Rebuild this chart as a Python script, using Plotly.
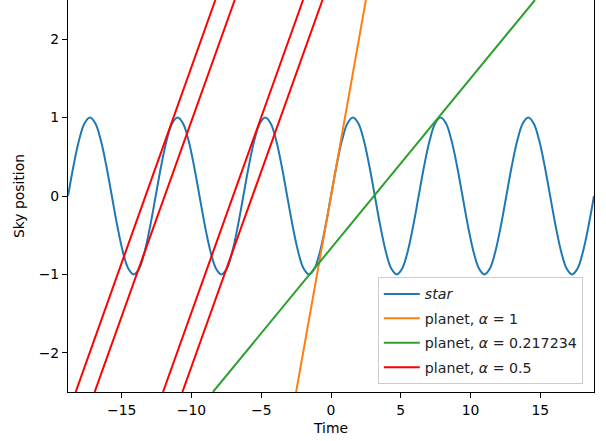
import plotly.graph_objects as go

# Star sky position sampled every pi/8 in time
star_time = [
    -18.850, -18.457, -18.064, -17.671, -17.279, -16.886, -16.493, -16.101,
    -15.708, -15.315, -14.923, -14.530, -14.137, -13.744, -13.352, -12.959,
    -12.566, -12.174, -11.781, -11.388, -10.996, -10.603, -10.210, -9.817,
    -9.425, -9.032, -8.639, -8.247, -7.854, -7.461, -7.069, -6.676,
    -6.283, -5.890, -5.498, -5.105, -4.712, -4.320, -3.927, -3.534,
    -3.142, -2.749, -2.356, -1.963, -1.571, -1.178, -0.785, -0.393,
    0.000,
    0.393, 0.785, 1.178, 1.571, 1.963, 2.356, 2.749, 3.142,
    3.534, 3.927, 4.320, 4.712, 5.105, 5.498, 5.890, 6.283,
    6.676, 7.069, 7.461, 7.854, 8.247, 8.639, 9.032, 9.425,
    9.817, 10.210, 10.603, 10.996, 11.388, 11.781, 12.174, 12.566,
    12.959, 13.352, 13.744, 14.137, 14.530, 14.923, 15.315, 15.708,
    16.101, 16.493, 16.886, 17.279, 17.671, 18.064, 18.457, 18.850,
]
star_position = [
    0, 0.383, 0.707, 0.924, 1, 0.924, 0.707, 0.383,
    0, -0.383, -0.707, -0.924, -1, -0.924, -0.707, -0.383,
    0, 0.383, 0.707, 0.924, 1, 0.924, 0.707, 0.383,
    0, -0.383, -0.707, -0.924, -1, -0.924, -0.707, -0.383,
    0, 0.383, 0.707, 0.924, 1, 0.924, 0.707, 0.383,
    0, -0.383, -0.707, -0.924, -1, -0.924, -0.707, -0.383,
    0,
    0.383, 0.707, 0.924, 1, 0.924, 0.707, 0.383, 0,
    -0.383, -0.707, -0.924, -1, -0.924, -0.707, -0.383, 0,
    0.383, 0.707, 0.924, 1, 0.924, 0.707, 0.383, 0,
    -0.383, -0.707, -0.924, -1, -0.924, -0.707, -0.383, 0,
    0.383, 0.707, 0.924, 1, 0.924, 0.707, 0.383, 0,
    -0.383, -0.707, -0.924, -1, -0.924, -0.707, -0.383, 0,
]

# Planet tracks: (time, position) end points of each straight track
planet_a1_time = [-2.5, 2.5]
planet_a1_position = [-2.5, 2.5]

planet_a0217_time = [-8.46, 14.62]
planet_a0217_position = [-2.5, 2.5]

planet_a05_times = [
    [-18.30, -8.29],
    [-16.94, -6.90],
    [-12.04, -2.00],
    [-10.65, -0.61],
]
planet_a05_position = [-2.5, 2.5]

x_ticks = [-15, -10, -5, 0, 5, 10, 15]
y_ticks = [-2, -1, 0, 1, 2]

FONT = "DejaVu Sans"
FS = 13.9
LEG_FS = 14.2

fig = go.Figure()

fig.add_trace(go.Scatter(
    x=star_time, y=star_position, mode="lines",
    line=dict(color="#1f77b4", width=2, shape="spline"),
    name="<i>star</i>", legendgroup="star",
))
fig.add_trace(go.Scatter(
    x=planet_a1_time, y=planet_a1_position, mode="lines",
    line=dict(color="#ff7f0e", width=2),
    name="planet, <i>α</i> = 1", legendgroup="a1",
))
fig.add_trace(go.Scatter(
    x=planet_a0217_time, y=planet_a0217_position, mode="lines",
    line=dict(color="#2ca02c", width=2),
    name="planet, <i>α</i> = 0.217234", legendgroup="a0217",
))
for i, t in enumerate(planet_a05_times):
    fig.add_trace(go.Scatter(
        x=t, y=planet_a05_position, mode="lines",
        line=dict(color="#ff0000", width=2),
        name="planet, <i>α</i> = 0.5", legendgroup="a05",
        showlegend=(i == 0),
    ))

axis_common = dict(
    showgrid=False, zeroline=False,
    showline=True, linecolor="black", linewidth=1.1, mirror=True,
    ticks="outside", ticklen=5, tickwidth=1.1, tickcolor="black",
    tickfont=dict(family=FONT, size=FS, color="black"),
)

fig.update_layout(
    width=606, height=441,
    margin=dict(l=68, r=12, t=0, b=49),
    paper_bgcolor="white", plot_bgcolor="white",
    font=dict(family=FONT, size=FS, color="black"),
    xaxis=dict(range=[-18.85, 18.85], tickvals=x_ticks,
               title=dict(text="Time", standoff=6,
                          font=dict(family=FONT, size=FS, color="black")),
               **axis_common),
    yaxis=dict(range=[-2.5, 2.5], tickvals=y_ticks,
               title=dict(text="Sky position", standoff=10,
                          font=dict(family=FONT, size=FS, color="black")),
               **axis_common),
    legend=dict(
        x=0.589, y=0.02, xanchor="left", yanchor="bottom",
        bgcolor="rgba(255,255,255,0.8)", bordercolor="#cccccc", borderwidth=1,
        font=dict(family=FONT, size=LEG_FS, color="#222222"),
        tracegroupgap=3, traceorder="grouped", itemwidth=36,
    ),
    showlegend=True,
)

fig.write_html("out.html")
